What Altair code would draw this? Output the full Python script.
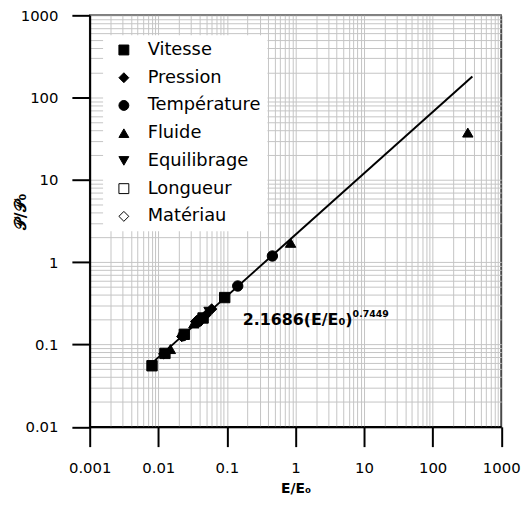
import altair as alt
import pandas as pd

# ---------------- data ----------------
CATEGORIES = ["Vitesse", "Pression", "Température", "Fluide", "Equilibrage", "Longueur", "Matériau"]
SHAPES = ["square", "diamond", "circle", "triangle-up", "triangle-down", "square", "diamond"]
FILLS = ["black", "black", "black", "black", "black", "white", "white"]
STROKES = ["black", "black", "black", "black", "black", "black", "black"]

vitesse_x = [0.0081, 0.0125, 0.024, 0.045, 0.093]
vitesse_y = [0.0552, 0.078, 0.133, 0.21, 0.372]
pression_x = [0.012, 0.022, 0.035, 0.05, 0.06]
pression_y = [0.077, 0.125, 0.19, 0.23, 0.27]
temperature_x = [0.023, 0.038, 0.04, 0.144, 0.461]
temperature_y = [0.128, 0.19, 0.2, 0.514, 1.19]
fluide_x = [0.015, 0.033, 0.85, 326]
fluide_y = [0.088, 0.18, 1.72, 37.6]
equilibrage_x = [0.042, 0.055]
equilibrage_y = [0.19, 0.25]

fit_x = [0.008, 380]
fit_y = [0.059, 181]

ann_x = [0.17]
ann_y = [0.173]
ann_main = ["2.1686(E/E₀)"]
ann_sup = ["0.7449"]

X_TICKS = [m * 10.0 ** e for e in range(-3, 3) for m in range(1, 10)] + [1000.0]
Y_TICKS = [m * 10.0 ** e for e in range(-2, 3) for m in range(1, 10)] + [1000.0]

# ---------------- tables ----------------
rows = []
for name, xs, ys in [("Vitesse", vitesse_x, vitesse_y), ("Pression", pression_x, pression_y),
                     ("Température", temperature_x, temperature_y), ("Fluide", fluide_x, fluide_y),
                     ("Equilibrage", equilibrage_x, equilibrage_y)]:
    for a, b in zip(xs, ys):
        rows.append({"x": a, "y": b, "cat": name})
pts = pd.DataFrame(rows)
fit = pd.DataFrame({"x": fit_x, "y": fit_y})
ann = pd.DataFrame({"x": ann_x, "y": ann_y, "t": ann_main, "s": ann_sup})

MAJOR = "abs(log(datum.value)/LN10 - round(log(datum.value)/LN10)) < 1e-6"
FONT = "DejaVu Sans"

common_axis = dict(
    grid=True, gridColor="#c4c4c4", gridWidth=1,
    domainColor="black", domainWidth=2,
    tickColor="black", tickWidth=2,
    tickOpacity={"condition": {"test": MAJOR, "value": 1}, "value": 0},
    labelExpr=f"({MAJOR}) ? format(datum.value, '~g') : ''",
    labelFont=FONT, labelFontSize=15, labelColor="black",
    labelOverlap=False, labelFlush=False,
    titleFont=FONT, titleFontWeight="bold", titleColor="black",
)

X = alt.X("x:Q", scale=alt.Scale(type="log", domain=[0.001, 1000], nice=False),
          axis=alt.Axis(values=X_TICKS, tickSize=20, labelPadding=14, title="E/E₀",
                        titlePadding=6, titleFontSize=14, **common_axis))
Y = alt.Y("y:Q", scale=alt.Scale(type="log", domain=[0.01, 1000], nice=False),
          axis=alt.Axis(values=Y_TICKS, tickSize=18, labelPadding=14, title="𝒫/𝒫₀",
                        titleFontSize=16, titleX=-62, titleY=198, **common_axis))

legend = alt.Legend(orient="none", legendX=13.5, legendY=20, fillColor="white", padding=6,
                    symbolOffset=6, labelOffset=15, rowPadding=10, symbolSize=100,
                    symbolStrokeWidth=1,
                    labelFont=FONT, labelFontSize=18, labelColor="black", labelLimit=300,
                    title=None)

line = alt.Chart(fit).mark_line(color="black", strokeWidth=2).encode(x=X, y=Y)

points = alt.Chart(pts).mark_point(filled=True, size=110, strokeWidth=1, opacity=1).encode(
    x=X, y=Y,
    shape=alt.Shape("cat:N", scale=alt.Scale(domain=CATEGORIES, range=SHAPES), legend=legend),
    fill=alt.Fill("cat:N", scale=alt.Scale(domain=CATEGORIES, range=FILLS), legend=legend),
    stroke=alt.Stroke("cat:N", scale=alt.Scale(domain=CATEGORIES, range=STROKES), legend=legend),
)

t1 = alt.Chart(ann).mark_text(align="left", baseline="alphabetic", font=FONT, fontSize=16,
                              fontWeight="bold", color="black").encode(x=X, y=Y, text="t:N")
t2 = alt.Chart(ann).mark_text(align="left", baseline="alphabetic", font=FONT, fontSize=9.5,
                              fontWeight="bold", color="black", dx=111, dy=-7.5).encode(x=X, y=Y, text="s:N")

chart = alt.layer(line, points, t1, t2).properties(
    width=415.5, height=415.5, autosize="none",
    padding={"left": 82.5, "top": 5, "right": 20, "bottom": 70},
).configure_view(stroke="black", strokeWidth=1.5)

chart.save("out.html", embed_options={"renderer": "svg", "actions": False})
